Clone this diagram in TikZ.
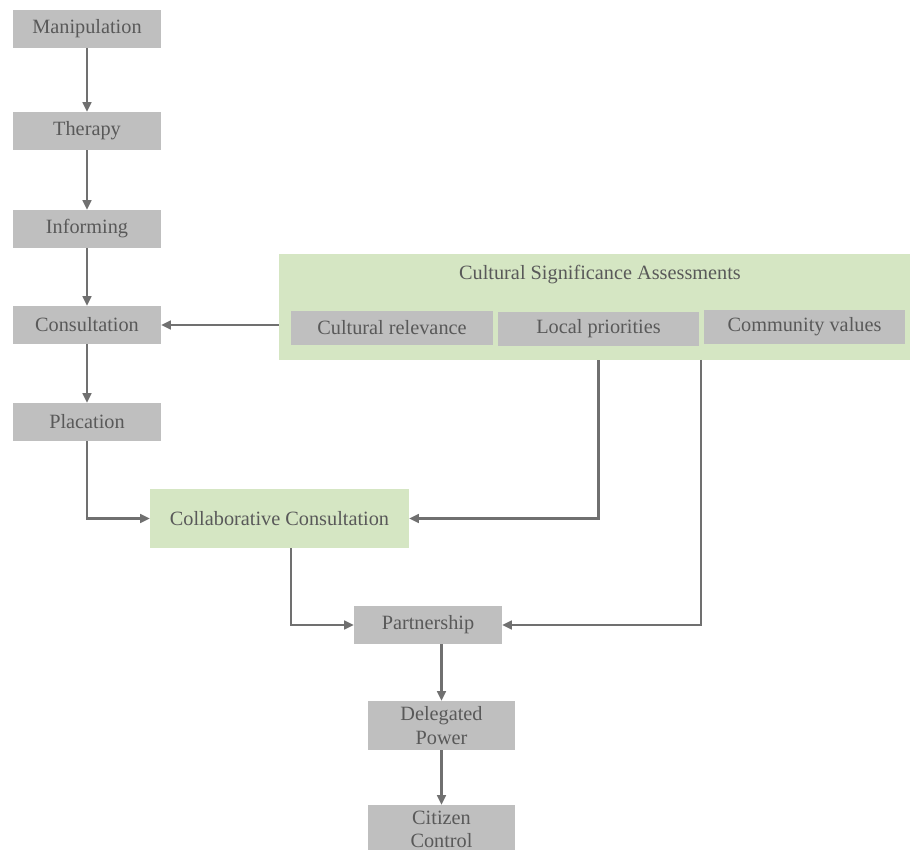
\documentclass[tikz,border=0pt]{standalone}
\usepackage{fontspec}
\setmainfont{Liberation Serif}
\usetikzlibrary{arrows.meta}

\definecolor{boxgray}{HTML}{BFBFBF}
\definecolor{boxgreen}{HTML}{D5E6C3}
\definecolor{linegray}{HTML}{707070}
\definecolor{textgray}{HTML}{595959}

\tikzset{
  rung/.style={fill=boxgray, text=textgray, minimum width=3.256cm, minimum height=0.836cm, inner sep=0pt, align=center, font=\fontsize{12.7}{14.6}\selectfont},
  greenbox/.style={fill=boxgreen, text=textgray, inner sep=0pt, align=center, font=\fontsize{12.7}{14.6}\selectfont},
  facet/.style={rung, minimum width=4.444cm, minimum height=0.748cm},
  flow/.style={draw=linegray, line width=1.3pt, -{Triangle[length=6pt,width=5.5pt]}}
}

\begin{document}
\begin{tikzpicture}[x=0.022cm, y=-0.022cm]

% Cadre
\clip (0,0) rectangle (910,850);

% Echelle
\node[rung] (manip) at (87,29) {Manipulation};
\node[rung] (therapy) at (87,131) {Therapy};
\node[rung] (inform) at (87,229) {Informing};
\node[rung] (consult) at (87,325) {Consultation};
\node[rung] (placate) at (87,422) {Placation};
\node[greenbox, minimum width=5.698cm, minimum height=1.298cm] (collab) at (279.5,518.5) {Collaborative Consultation};
\node[rung] (partner) at (428,625) {Partnership};
\node[rung, minimum height=1.078cm] (deleg) at (441.5,725.5) {Delegated\\Power};
\node[rung, minimum height=1.078cm] (citizen) at (441.5,829.5) {Citizen\\Control};

% Evaluations culturelles
\node[greenbox, minimum width=13.882cm, minimum height=2.332cm] (csa) at (594.5,307) {};
\node[text=textgray, font=\fontsize{12.7}{14.6}\selectfont] (csatitle) at (600,275) {Cultural Significance Assessments};
\node[facet] (relev) at (392,328) {Cultural relevance};
\node[facet] (local) at (598.5,329) {Local priorities};
\node[facet] (values) at (804.5,327) {Community values};
\coordinate (valuesdrop) at (701,360);

% Fleches
\draw[flow] (manip) -- (therapy);
\draw[flow] (therapy) -- (inform);
\draw[flow] (inform) -- (consult);
\draw[flow] (consult) -- (placate);
\draw[flow] (csa.west |- consult) -- (consult);
\draw[flow] (placate) |- (collab);
\draw[flow] (local.south |- csa.south) |- (collab);
\draw[flow] ([xshift=0.25cm]collab.south) |- (partner);
\draw[flow] (valuesdrop) |- (partner);
\draw[flow] (deleg.north |- partner.south) -- (deleg);
\draw[flow] (deleg) -- (citizen);

\end{tikzpicture}
\end{document}
